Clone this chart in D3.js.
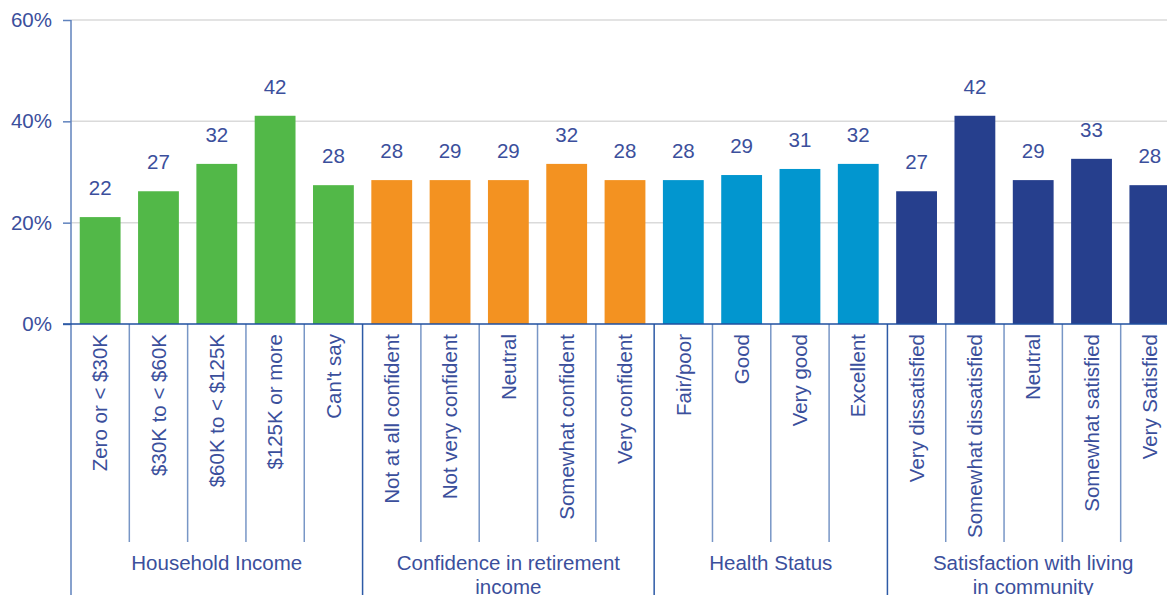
<!DOCTYPE html>
<html>
<head>
<meta charset="utf-8">
<script src="https://cdn.jsdelivr.net/npm/d3@7"></script>
<style>
  body { margin: 0; background: #fff; }
  text { font-family: "Liberation Sans", Arial, Helvetica, sans-serif; fill: #3b4f9c; }
</style>
</head>
<body>
<div id="chart"></div>
<script>
const categories = [
    "Zero or < $30K", "$30K to < $60K", "$60K to < $125K", "$125K or more", "Can't say",
    "Not at all confident", "Not very confident", "Neutral", "Somewhat confident", "Very confident",
    "Fair/poor", "Good", "Very good", "Excellent",
    "Very dissatisfied", "Somewhat dissatisfied", "Neutral ", "Somewhat satisfied", "Very Satisfied"
];
const barValues = [21.1, 26.2, 31.6, 41.1, 27.4, 28.4, 28.4, 28.4, 31.6, 28.4, 28.4, 29.4, 30.6, 31.6, 26.2, 41.1, 28.4, 32.6, 27.4];
const barLabels = ["22", "27", "32", "42", "28", "28", "29", "29", "32", "28", "28", "29", "31", "32", "27", "42", "29", "33", "28"];
const groupNames = ["Household Income", "Confidence in retirement income", "Health Status", "Satisfaction with living in community"];
const groupLines = [["Household Income"], ["Confidence in retirement", "income"], ["Health Status"], ["Satisfaction with living", "in community"]];
const groupSizes = [5, 5, 4, 5];
const groupColors = ["#52b848", "#f39221", "#0296cf", "#263f8d"];
const yTicks = [0, 20, 40, 60];

const svgWidth = 1167;
const svgHeight = 595;
const margins = {top: 20, left: 71};
const baseY = 324;
const bandRight = 1179;
const fontSize = 20.5;

const svg = d3.select("#chart")
    .append("svg")
    .attr("width", svgWidth)
    .attr("height", svgHeight);

const xScale = d3.scaleBand()
    .domain(categories)
    .range([margins.left, bandRight])
    .paddingInner(0.3)
    .paddingOuter(0.15);

const yScale = d3.scaleLinear()
    .domain([0, 60])
    .range([baseY, margins.top]);

// group index per category
const groupOf = [];
groupSizes.forEach((n, g) => { for (let i = 0; i < n; i++) groupOf.push(g); });
const step = xScale.step();

// gridlines
svg.selectAll(".grid")
    .data(yTicks.filter(t => t > 0))
    .enter()
    .append("line")
    .attr("class", "grid")
    .attr("x1", margins.left)
    .attr("x2", svgWidth)
    .attr("y1", d => yScale(d))
    .attr("y2", d => yScale(d))
    .style("stroke", "#dadada")
    .style("stroke-width", 1.5);

// bars
svg.selectAll(".bar")
    .data(categories)
    .enter()
    .append("rect")
    .attr("class", "bar")
    .attr("x", d => xScale(d))
    .attr("width", xScale.bandwidth())
    .attr("y", (d, i) => yScale(barValues[i]))
    .attr("height", (d, i) => baseY - yScale(barValues[i]))
    .style("fill", (d, i) => groupColors[groupOf[i]]);

// value labels
svg.selectAll(".valueLabel")
    .data(categories)
    .enter()
    .append("text")
    .attr("class", "valueLabel")
    .attr("x", d => xScale(d) + xScale.bandwidth() / 2)
    .attr("y", (d, i) => yScale(barValues[i]) - 22)
    .attr("text-anchor", "middle")
    .attr("font-size", fontSize)
    .text((d, i) => barLabels[i]);

// y axis
const yAxis = d3.axisLeft(yScale)
    .tickValues(yTicks)
    .tickFormat(d => d + "%")
    .tickSize(8)
    .tickSizeOuter(0)
    .tickPadding(11);

const yAxisG = svg.append("g")
    .attr("transform", `translate(${margins.left}, 0)`)
    .call(yAxis);
yAxisG.select(".domain").remove();
yAxisG.selectAll("line").style("stroke", "#5f82bd").style("stroke-width", 1.5);
yAxisG.selectAll("text")
    .attr("font-size", fontSize)
    .style("font-family", "'Liberation Sans', Arial, Helvetica, sans-serif")
    .style("fill", "#3b4f9c");

// left axis line running down through category area
svg.append("line")
    .attr("x1", margins.left).attr("x2", margins.left)
    .attr("y1", margins.top).attr("y2", svgHeight)
    .style("stroke", "#5f82bd")
    .style("stroke-width", 1.5);

// separators between categories
const boundaries = [];
let acc = 0;
groupSizes.forEach((n, g) => {
    for (let i = 1; i < n; i++) boundaries.push({x: margins.left + (acc + i) * step, major: false});
    acc += n;
    boundaries.push({x: margins.left + acc * step, major: true});
});

svg.selectAll(".sep")
    .data(boundaries)
    .enter()
    .append("line")
    .attr("class", "sep")
    .attr("x1", d => d.x).attr("x2", d => d.x)
    .attr("y1", baseY)
    .attr("y2", d => d.major ? svgHeight : 542)
    .style("stroke", d => d.major ? "#2d5aa6" : "#7896c6")
    .style("stroke-width", 1.5);

// baseline
svg.append("line")
    .attr("x1", margins.left - 8).attr("x2", svgWidth)
    .attr("y1", baseY).attr("y2", baseY)
    .style("stroke", "#1f4f9f")
    .style("stroke-width", 1.5);

// category labels
svg.selectAll(".catLabel")
    .data(categories)
    .enter()
    .append("text")
    .attr("class", "catLabel")
    .attr("transform", d => `translate(${xScale(d) + xScale.bandwidth() / 2}, 334) rotate(-90)`)
    .attr("dy", "0.35em")
    .attr("text-anchor", "end")
    .attr("font-size", fontSize)
    .text(d => d.trim());

// group labels
acc = 0;
groupNames.forEach((name, g) => {
    const x0 = margins.left + acc * step;
    acc += groupSizes[g];
    const x1 = margins.left + acc * step;
    const t = svg.append("text")
        .attr("class", "groupLabel")
        .attr("x", (x0 + x1) / 2)
        .attr("y", 570)
        .attr("text-anchor", "middle")
        .attr("font-size", fontSize);
    groupLines[g].forEach((line, k) => {
        t.append("tspan")
            .attr("x", (x0 + x1) / 2)
            .attr("dy", k === 0 ? 0 : 24)
            .text(line);
    });
});
</script>
</body>
</html>
